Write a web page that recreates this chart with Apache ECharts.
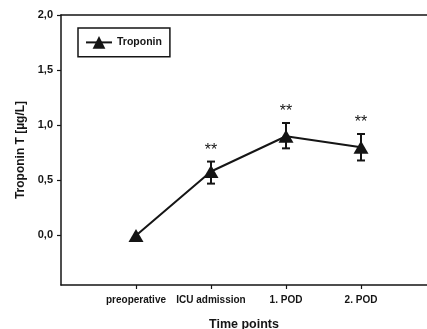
<!DOCTYPE html>
<html>
<head>
<meta charset="utf-8">
<script src="https://cdn.jsdelivr.net/npm/echarts@6/dist/echarts.min.js"></script>
<style>
  html, body { margin: 0; padding: 0; background: #fff; }
  #chart { width: 427px; height: 329px; }
</style>
</head>
<body>
<div id="chart"></div>
<script>
// data
var timePoints = ['preoperative', 'ICU admission', '1. POD', '2. POD'];
var troponin = [0.0, 0.58, 0.90, 0.80];
var errLow = [null, 0.47, 0.79, 0.68];
var errHigh = [null, 0.67, 1.02, 0.92];
var signif = ['', '**', '**', '**'];
var yTicks = [0, 0.5, 1.0, 1.5, 2.0];

var font = 'Liberation Sans, Arial, sans-serif';
var ink = '#151515';

var lineData = [];
var barData = [];
for (var i = 0; i < timePoints.length; i++) {
    lineData.push([i + 1, troponin[i]]);
    if (errLow[i] != null) {
        barData.push([i + 1, errLow[i], errHigh[i], signif[i]]);
    }
}

var myChart = echarts.init(document.getElementById('chart'), null, { renderer: 'canvas' });

var option = {
    backgroundColor: '#fff',
    animation: false,
    grid: { left: 61, right: 0, top: 15, bottom: 44, outerBoundsMode: 'none', containLabel: false },
    legend: {
        left: 78,
        top: 28,
        padding: [8, 8, 8, 7],
        borderColor: ink,
        borderWidth: 1.5,
        borderRadius: 0,
        itemWidth: 26,
        itemHeight: 16,
        data: ['Troponin'],
        textStyle: { fontFamily: font, fontWeight: 'bold', fontSize: 10.5, color: ink }
    },
    xAxis: [{
        type: 'value',
        min: 0,
        max: 4.88,
        name: 'Time points',
        nameLocation: 'middle',
        nameGap: 33,
        nameTextStyle: { fontFamily: font, fontWeight: 'bold', fontSize: 12.5, color: ink },
        splitLine: { show: false },
        axisLine: { show: true, onZero: false, lineStyle: { color: ink, width: 1.5 } },
        axisTick: {
            show: true, length: 4, lineStyle: { color: ink, width: 1.2 },
            customValues: [1, 2, 3, 4]
        },
        axisLabel: {
            customValues: [1, 2, 3, 4],
            margin: 10,
            fontFamily: font, fontWeight: 'bold', fontSize: 10, color: ink,
            formatter: function(v) {
                return timePoints[Math.round(v) - 1] || '';
            }
        }
    }, {
        // top frame line only
        type: 'value',
        position: 'top',
        min: 0,
        max: 4.88,
        axisLine: { show: true, onZero: false, lineStyle: { color: ink, width: 1.5 } },
        axisTick: { show: false },
        axisLabel: { show: false },
        splitLine: { show: false }
    }],
    yAxis: {
        type: 'value',
        min: -0.45,
        max: 2.0,
        name: 'Troponin T [µg/L]',
        nameLocation: 'middle',
        nameGap: 33,
        nameTextStyle: { fontFamily: font, fontWeight: 'bold', fontSize: 12, color: ink },
        splitLine: { show: false },
        axisLine: { show: true, onZero: false, lineStyle: { color: ink, width: 1.5 } },
        axisTick: {
            show: true, length: 4, lineStyle: { color: ink, width: 1.2 },
            customValues: yTicks
        },
        axisLabel: {
            customValues: yTicks,
            margin: 8,
            fontFamily: font, fontWeight: 'bold', fontSize: 11, color: ink,
            formatter: function(v) {
                return v.toFixed(1).replace('.', ',');
            }
        }
    },
    series: [{
        name: 'errors',
        type: 'custom',
        z: 1,
        data: barData,
        encode: { x: 0, y: [1, 2] },
        renderItem: function(params, api) {
            var x = api.value(0);
            var lo = api.coord([x, api.value(1)]);
            var hi = api.coord([x, api.value(2)]);
            var cap = 4;
            var st = { stroke: ink, lineWidth: 2 };
            return {
                type: 'group',
                children: [
                    { type: 'line', shape: { x1: lo[0], y1: lo[1], x2: hi[0], y2: hi[1] }, style: st },
                    { type: 'line', shape: { x1: lo[0] - cap, y1: lo[1], x2: lo[0] + cap, y2: lo[1] }, style: st },
                    { type: 'line', shape: { x1: hi[0] - cap, y1: hi[1], x2: hi[0] + cap, y2: hi[1] }, style: st },
                    {
                        type: 'text',
                        style: {
                            x: hi[0], y: hi[1] - 3,
                            text: api.value(3),
                            align: 'center', verticalAlign: 'bottom',
                            font: '16px ' + font,
                            fill: ink
                        }
                    }
                ]
            };
        }
    }, {
        name: 'Troponin',
        type: 'line',
        z: 3,
        data: lineData,
        symbol: 'triangle',
        symbolSize: [15, 13],
        lineStyle: { color: ink, width: 2 },
        itemStyle: { color: ink, borderWidth: 0 }
    }]
};

myChart.setOption(option);
</script>
</body>
</html>
